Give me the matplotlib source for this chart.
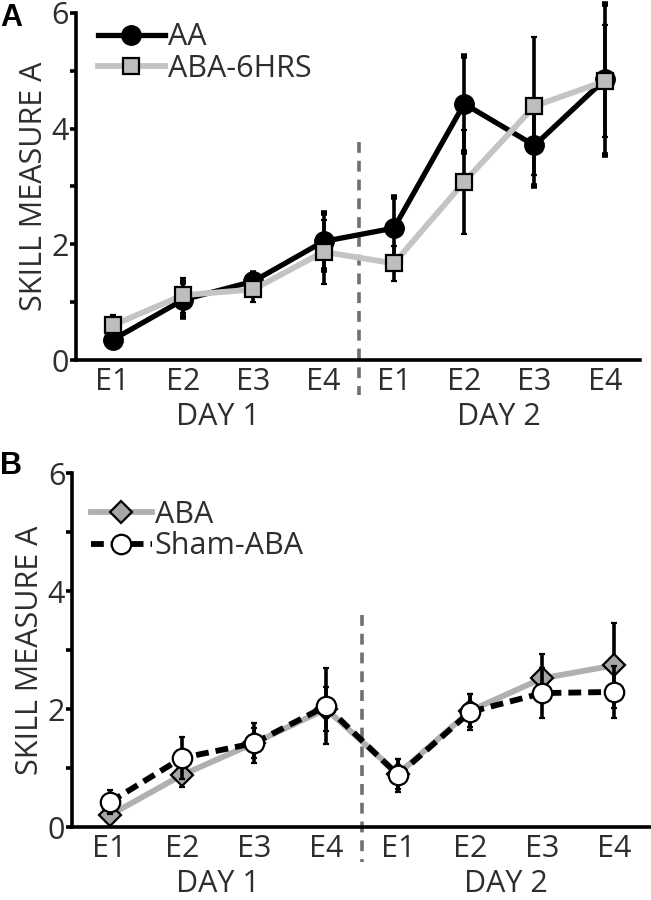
import matplotlib
matplotlib.use("Agg")
import matplotlib.pyplot as plt

plt.rcParams['font.family'] = ['Open Sans', 'DejaVu Sans']

# sessions: E1-E4 on day 1, then E1-E4 on day 2
session_labels = ['E1', 'E2', 'E3', 'E4', 'E1', 'E2', 'E3', 'E4']
day_labels = ['DAY 1', 'DAY 2']
x = [1, 2, 3, 4, 5, 6, 7, 8]

# panel A
aa_mean = [0.35, 1.04, 1.36, 2.05, 2.28, 4.43, 3.71, 4.85]
aa_err = [0.10, 0.30, 0.15, 0.50, 0.54, 0.83, 0.71, 1.30]
aba6_mean = [0.60, 1.12, 1.22, 1.87, 1.67, 3.08, 4.39, 4.82]
aba6_err = [0.17, 0.30, 0.22, 0.55, 0.30, 0.90, 1.20, 0.97]

# panel B
aba_mean = [0.20, 0.88, 1.42, 2.00, 0.90, 1.97, 2.52, 2.74]
aba_err = [0.10, 0.20, 0.25, 0.37, 0.25, 0.28, 0.41, 0.72]
sham_mean = [0.42, 1.17, 1.42, 2.05, 0.88, 1.95, 2.27, 2.29]
sham_err = [0.20, 0.36, 0.34, 0.64, 0.28, 0.30, 0.42, 0.44]

LIGHT = '#c4c4c4'
TXT = '#2e2e2e'
FS = 22
EB = dict(ecolor='black', elinewidth=2.6, capsize=2.2, capthick=4)


def unclip(container):
    for art in container.get_children():
        art.set_clip_on(False)


def style_axes(ax, dash_top):
    ax.set_xlim(0.48, 8.5)
    ax.set_ylim(0, 6)
    for s in ['top', 'right']:
        ax.spines[s].set_visible(False)
    for s in ['left', 'bottom']:
        ax.spines[s].set_linewidth(2.6)
    ax.set_yticks([0, 1, 2, 3, 4, 5, 6])
    ax.set_yticklabels(['0', '', '2', '', '4', '', '6'])
    ax.tick_params(axis='y', direction='out', length=4, width=2.6,
                   labelsize=FS, pad=1, colors='black', labelcolor=TXT)
    ax.set_xticks(x)
    ax.set_xticklabels(session_labels)
    ax.tick_params(axis='x', length=0, labelsize=FS, pad=5, labelcolor=TXT)
    ax.set_ylabel('SKILL MEASURE A', fontsize=FS, color=TXT, labelpad=2)
    ax.plot([4.5, 4.5], [dash_top, -0.6], ls=(0, (3.0, 2.2)), lw=2.6,
            color='#707070', clip_on=False, zorder=1)
    for xi, lab in zip([2.5, 6.5], day_labels):
        ax.text(xi, -0.72, lab, fontsize=FS, color=TXT, ha='center', va='top')


def clean_legend(ax, anchor, hlen):
    handles, labels = ax.get_legend_handles_labels()
    handles = [h[0] for h in handles]
    leg = ax.legend(handles, labels, loc='upper left', bbox_to_anchor=anchor,
                    frameon=False, fontsize=FS, handlelength=hlen,
                    handletextpad=0.1, labelspacing=0.05, borderaxespad=0.3)
    for t in leg.get_texts():
        t.set_color(TXT)


fig = plt.figure(figsize=(6.51, 9.0), dpi=100)

# ---- panel A
ax1 = fig.add_axes([0.117, 0.6, 0.866, 0.3856])
c = ax1.errorbar(x, aa_mean, yerr=aa_err, color='black', lw=3.8, marker='o',
                 ms=14, mfc='black', mec='black', label='AA', zorder=3, **EB)
unclip(c)
c = ax1.errorbar(x, aba6_mean, yerr=aba6_err, color=LIGHT, lw=4.2, marker='s',
                 ms=12, mfc='#bdbdbd', mec='black', mew=1.6,
                 label='ABA-6HRS', zorder=4, **EB)
unclip(c)
style_axes(ax1, 3.77)
clean_legend(ax1, (0.0, 1.035), 2.2)
fig.text(0.0, 0.997, 'A', fontsize=22, fontweight='bold', ha='left', va='top',
         family=['Liberation Sans', 'DejaVu Sans'])

# ---- panel B
ax2 = fig.add_axes([0.111, 0.0811, 0.888, 0.3933])
c = ax2.errorbar(x, aba_mean, yerr=aba_err, color='#b0b0b0', lw=4.2, marker='D',
                 ms=11, mfc='#a6a6a6', mec='black', mew=1.6,
                 label='ABA', zorder=3, **EB)
unclip(c)
c = ax2.errorbar(x, sham_mean, yerr=sham_err, color='black', lw=4.2,
                 ls=(0, (2.2, 1.2)), marker='o', ms=14, mfc='white', mec='black',
                 mew=1.6, label='Sham-ABA', zorder=4, **EB)
unclip(c)
style_axes(ax2, 3.59)
clean_legend(ax2, (-0.005, 0.985), 2.0)
fig.text(0.0, 0.499, 'B', fontsize=22, fontweight='bold', ha='left', va='top',
         family=['Liberation Sans', 'DejaVu Sans'])

fig.savefig('out.png', dpi=100)
